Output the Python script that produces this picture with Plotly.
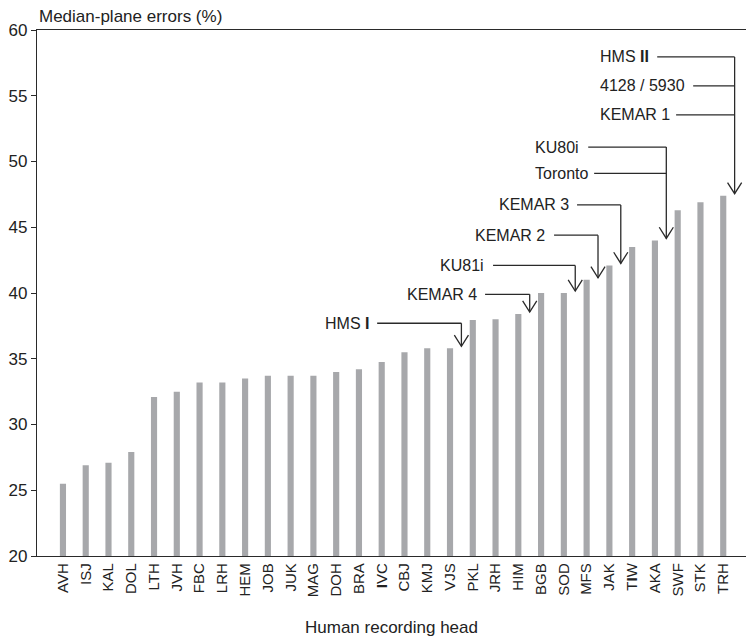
import plotly.graph_objects as go

# Median-plane localisation errors per human recording head (sorted ascending)
heads = ["AVH", "ISJ", "KAL", "DOL", "LTH", "JVH", "FBC", "LRH", "HEM", "JOB",
         "JUK", "MAG", "DOH", "BRA", "<b>I</b>VC", "CBJ", "KMJ", "VJS", "PKL", "JRH",
         "HIM", "BGB", "SOD", "MFS", "JAK", "T<b>I</b>W", "AKA", "SWF", "STK", "TRH"]
errors = [25.5, 26.9, 27.1, 27.9, 32.1, 32.5, 33.2, 33.2, 33.5, 33.7,
          33.7, 33.7, 34.0, 34.2, 34.75, 35.5, 35.8, 35.8, 37.95, 38.0,
          38.4, 40.0, 40.0, 41.0, 42.1, 43.5, 44.0, 46.3, 46.9, 47.4]

y_ticks = [20, 25, 30, 35, 40, 45, 50, 55, 60]

# Artificial heads, each pointing to the gap right of the human head it scores like.
# (label, row height, text left edge, connector start) -- positions in axis units
callout_groups = [
    (17, [("HMS <b>I</b>", 37.7, 11.42, 13.8)]),
    (20, [("KEMAR 4", 39.9, 15.03, 18.54)]),
    (22, [("KU81i", 42.1, 16.48, 18.89)]),
    (23, [("KEMAR 2", 44.4, 18.01, 21.57)]),
    (24, [("KEMAR 3", 46.7, 19.07, 22.58)]),
    (26, [("KU80i", 51.1, 20.65, 23.07),
          ("Toronto", 49.1, 20.65, 23.33)]),
    (29, [("HMS <b>II</b>", 57.95, 23.5, 26.1),
          ("4128 / 5930", 55.75, 23.5, 27.68),
          ("KEMAR 1", 53.55, 23.5, 26.93)]),
]

FONT = "Liberation Sans"
INK = "#222222"
LINE = "#2a2a2a"
BAR = "#a7a8ab"

x_idx = list(range(len(heads)))

fig = go.Figure()
fig.add_trace(go.Bar(
    x=x_idx, y=errors, width=0.27,
    marker=dict(color=BAR, line=dict(width=0)),
    hoverinfo="x+y",
))

shapes = []
annotations = []
head_dx, head_dy, tip_gap = 0.31, 0.85, 0.15
for idx, rows in callout_groups:
    ax = idx + 0.5
    tip = errors[idx] + tip_gap
    top = max(r[1] for r in rows)
    for label, ry, tx, lx in rows:
        annotations.append(dict(
            x=tx, y=ry, xref="x", yref="y", text=label, showarrow=False,
            xanchor="left", yanchor="middle",
            font=dict(family=FONT, size=16, color=INK),
        ))
        shapes.append(dict(type="line", xref="x", yref="y",
                           x0=lx, y0=ry, x1=ax, y1=ry,
                           line=dict(color=LINE, width=1.3)))
    shapes.append(dict(type="line", xref="x", yref="y",
                       x0=ax, y0=top, x1=ax, y1=tip,
                       line=dict(color=LINE, width=1.3)))
    shapes.append(dict(
        type="path", xref="x", yref="y",
        path=f"M {ax - head_dx},{tip + head_dy} L {ax},{tip} L {ax + head_dx},{tip + head_dy}",
        line=dict(color=LINE, width=1.3),
    ))

annotations.append(dict(
    x=0, y=1, xref="paper", yref="paper", xanchor="left", yanchor="bottom",
    yshift=2, text="Median-plane errors (%)", showarrow=False,
    font=dict(family=FONT, size=17, color=INK),
))

fig.update_layout(
    width=746, height=639,
    margin=dict(l=37, r=0, t=30, b=83),
    paper_bgcolor="white", plot_bgcolor="white",
    showlegend=False,
    shapes=shapes, annotations=annotations,
    font=dict(family=FONT, color=INK),
    xaxis=dict(
        range=[-1.14, 30.0],
        tickmode="array", tickvals=x_idx, ticktext=heads,
        tickangle=-90, ticks="", showgrid=False, zeroline=False,
        showline=True, mirror=True, linecolor=LINE, linewidth=1.4,
        tickfont=dict(family=FONT, size=15, color=INK),
        title=dict(text="Human recording head", standoff=24,
                   font=dict(family=FONT, size=17, color=INK)),
    ),
    yaxis=dict(
        range=[20, 60], tickmode="array", tickvals=y_ticks,
        ticks="outside", ticklen=5, tickcolor=LINE, tickwidth=1,
        showgrid=False, zeroline=False,
        showline=True, linecolor=LINE, linewidth=1.4,
        tickfont=dict(family=FONT, size=17, color=INK),
    ),
)

fig.write_html("out.html")
